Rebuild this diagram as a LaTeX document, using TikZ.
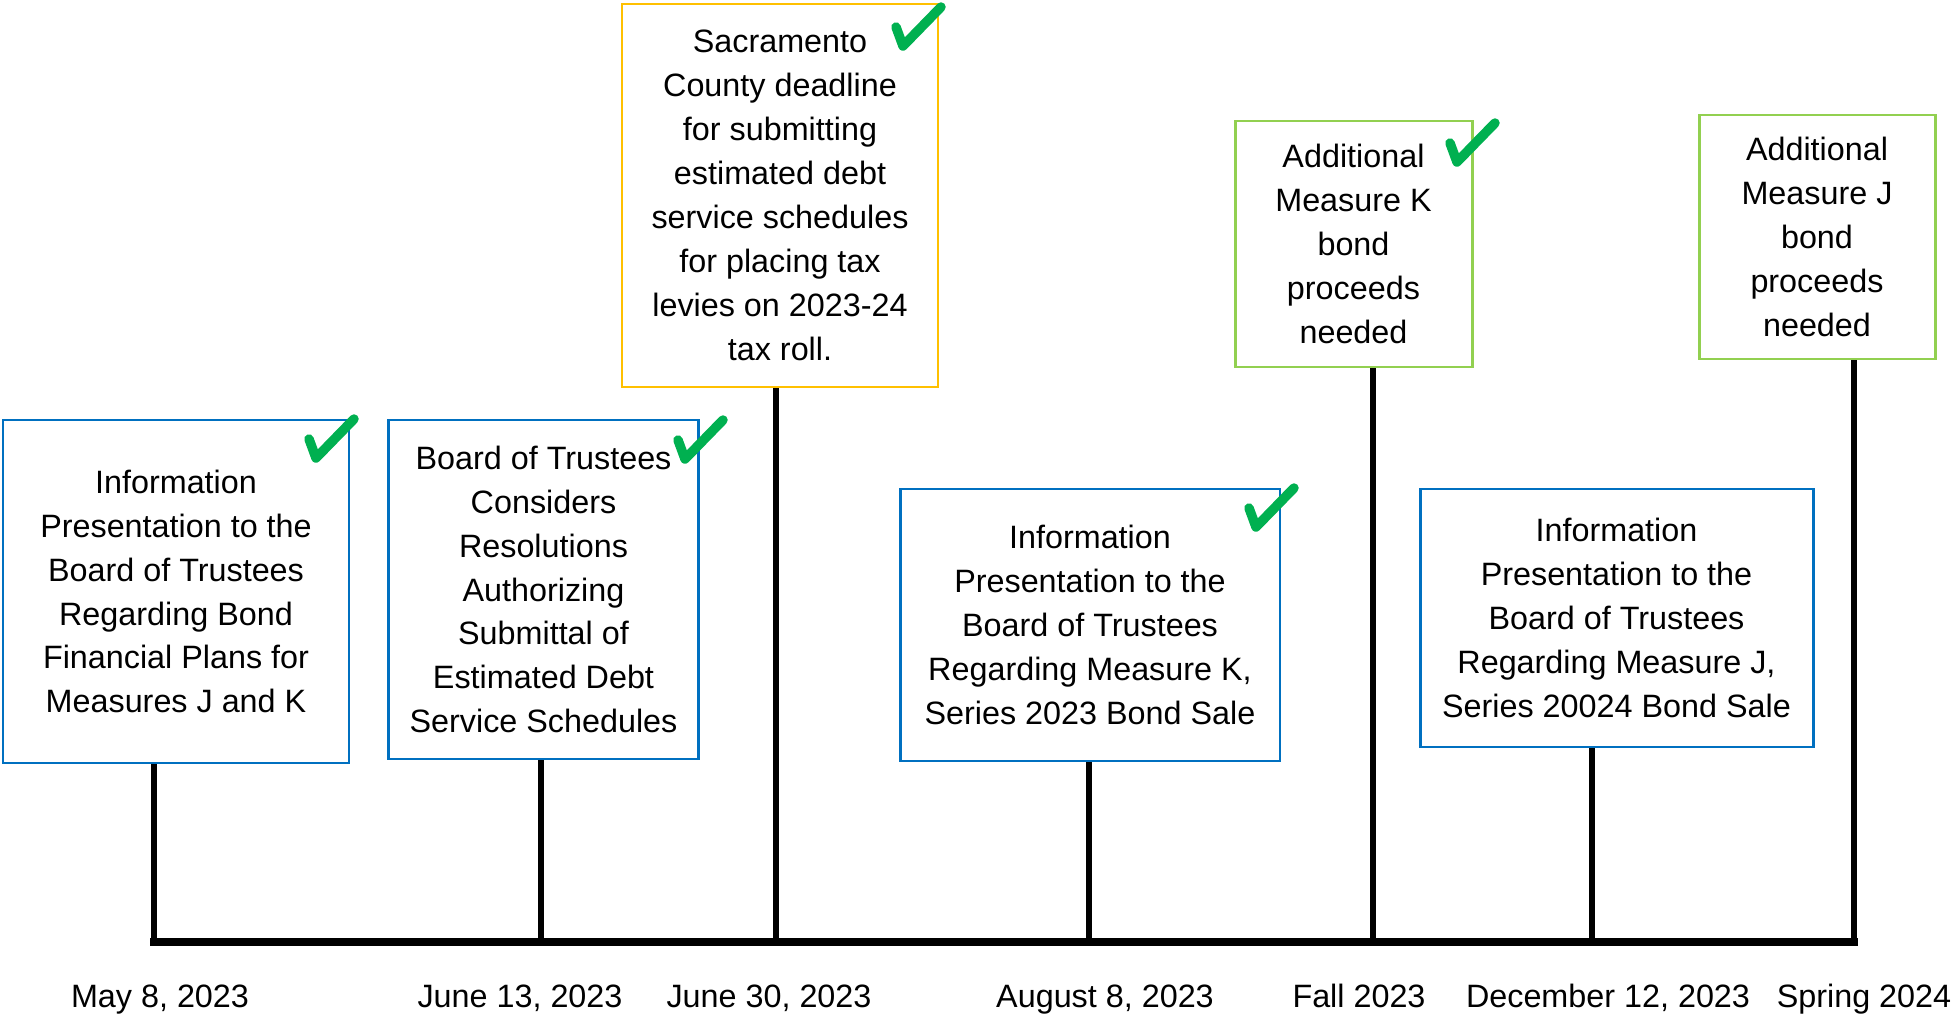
\documentclass[tikz,border=0pt]{standalone}
\usepackage{fontspec}
\setmainfont{Liberation Sans}
\definecolor{boxblue}{HTML}{0070C0}
\definecolor{boxgold}{HTML}{FFC000}
\definecolor{boxgreen}{HTML}{92D050}
\definecolor{checkgreen}{HTML}{00B050}
\tikzset{
  event/.style={draw,line width=0.85pt,align=center,inner sep=0pt,
    font=\fontsize{9.2}{12.5}\selectfont},
  stem/.style={line width=1.9pt},
  axis/.style={line width=2.4pt,line cap=rect},
  datelabel/.style={anchor=base,font=\fontsize{9.2}{11}\selectfont},
  check/.style={checkgreen,line width=0.95mm,line cap=round,line join=round}
}
% green tick mark, given by its lowest point
\newcommand{\donecheck}[2]{%
  \draw[check] (#1,#2) ++(-7,-19) -- (#1,#2) -- ++(38,-39);}

\begin{document}
\begin{tikzpicture}[x=0.1mm,y=-0.1mm]
  \useasboundingbox (0,0) rectangle (1954,1015);
  % Boxes above the time line
  \node[event,boxblue,text=black,minimum width=34.6mm,minimum height=34.3mm] (b1) at (176,591.5)
        {Information\\Presentation to the\\Board of Trustees\\Regarding Bond\\Financial Plans for\\Measures J and K};
  \node[event,boxblue,text=black,minimum width=31mm,minimum height=33.9mm] (b2) at (543.5,589.5)
        {Board of Trustees\\Considers\\Resolutions\\Authorizing\\Submittal of\\Estimated Debt\\Service Schedules};
  \node[event,boxgold,text=black,minimum width=31.6mm,minimum height=38.3mm] (b3) at (780,195.5)
        {Sacramento\\County deadline\\for submitting\\estimated debt\\service schedules\\for placing tax\\levies on 2023-24\\tax roll.};
  \node[event,boxblue,text=black,minimum width=38mm,minimum height=27.2mm] (b4) at (1090,625)
        {Information\\Presentation to the\\Board of Trustees\\Regarding Measure K,\\Series 2023 Bond Sale};
  \node[event,boxgreen,text=black,minimum width=23.7mm,minimum height=24.6mm] (b5) at (1353.5,244)
        {Additional\\Measure K\\bond\\proceeds\\needed};
  \node[event,boxblue,text=black,minimum width=39.3mm,minimum height=25.8mm] (b6) at (1616.5,618)
        {Information\\Presentation to the\\Board of Trustees\\Regarding Measure J,\\Series 20024 Bond Sale};
  \node[event,boxgreen,text=black,minimum width=23.6mm,minimum height=24.4mm] (b7) at (1817,237)
        {Additional\\Measure J\\bond\\proceeds\\needed};
  % Time line and its ticks
  \coordinate (t1) at (154,942);
  \coordinate (t2) at (541,942);
  \coordinate (t3) at (776,942);
  \coordinate (t4) at (1089,942);
  \coordinate (t5) at (1373,942);
  \coordinate (t6) at (1592,942);
  \coordinate (t7) at (1854,942);
  \draw[stem] (t1) -- (t1 |- b1.south);
  \draw[stem] (t2) -- (t2 |- b2.south);
  \draw[stem] (t3) -- (t3 |- b3.south);
  \draw[stem] (t4) -- (t4 |- b4.south);
  \draw[stem] (t5) -- (t5 |- b5.south);
  \draw[stem] (t6) -- (t6 |- b6.south);
  \draw[stem] (t7) -- (t7 |- b7.south);
  \draw[axis] (t1) -- (t7);
  % Dates
  \node[datelabel] (d1) at (160,1007)  {May 8, 2023};
  \node[datelabel] (d2) at (520,1007)  {June 13, 2023};
  \node[datelabel] (d3) at (769,1007)  {June 30, 2023};
  \node[datelabel] (d4) at (1105,1007) {August 8, 2023};
  \node[datelabel] (d5) at (1359,1007) {Fall 2023};
  \node[datelabel] (d6) at (1608,1007) {December 12, 2023};
  \node[datelabel] (d7) at (1864,1007) {Spring 2024};
  % Done marks
  \donecheck{316}{458}
  \donecheck{685}{459}
  \donecheck{903}{46}
  \donecheck{1256}{527}
  \donecheck{1457}{162}
\end{tikzpicture}
\end{document}
